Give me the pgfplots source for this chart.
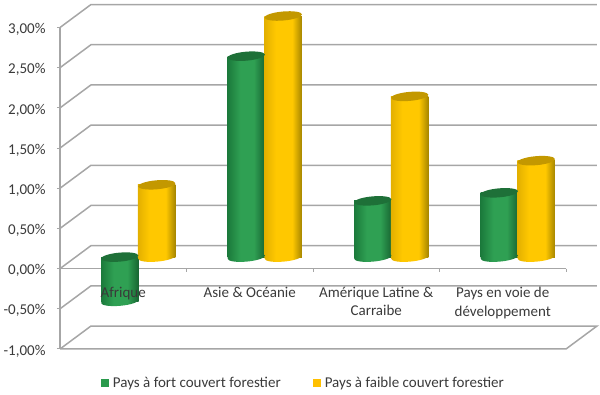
\documentclass[border=0pt]{standalone}
\usepackage{fontspec}
\setmainfont{Carlito}
\usepackage{pgfplots}
\usepackage{pgfplotstable}
\pgfplotsset{compat=1.18}
\usetikzlibrary{shapes.geometric}
\definecolor{gridc}{HTML}{A6A6A6}
\definecolor{txt}{HTML}{3A3A3A}
\definecolor{legG}{HTML}{2A9A4C}
\definecolor{legY}{HTML}{FFC000}
\definecolor{topG}{HTML}{1E7038}
\definecolor{topY}{HTML}{C39800}
\definecolor{gA}{HTML}{1B7A3B}\definecolor{gB}{HTML}{2FA053}\definecolor{gC}{HTML}{186532}
\definecolor{yA}{HTML}{E3B000}\definecolor{yB}{HTML}{FFC800}\definecolor{yC}{HTML}{A58500}
\pgfdeclarehorizontalshading{cylG}{100bp}{color(0bp)=(gA);color(25bp)=(gA);color(42bp)=(gB);color(60bp)=(gB);color(75bp)=(gC);color(100bp)=(gC)}
\pgfdeclarehorizontalshading{cylY}{100bp}{color(0bp)=(yA);color(25bp)=(yA);color(40bp)=(yB);color(62bp)=(yB);color(75bp)=(yC);color(100bp)=(yC)}
\pgfplotstableread{
x v base top
0.354 -0.55 -0.55 0
1.354 2.5 0 2.5
2.354 0.7 0 0.7
3.354 0.8 0 0.8
}\green
\pgfplotstableread{
x v base top
0.646 0.9 0 0.9
1.646 3.0 0 3.0
2.646 2.0 0 2.0
3.646 1.2 0 1.2
}\yellow
\pgfplotsset{
  common/.style={scale only axis,width=506pt,height=321.5pt,xmin=0,xmax=4,ymin=-1,ymax=3,clip=false,anchor=south west},
  ell/.style={only marks,mark=none,forget plot,nodes near coords={},nodes near coords align=center,
    every node near coord/.style={ellipse,inner sep=0pt,minimum width=37.5pt,minimum height=9pt,rotate=5,draw=none,#1,anchor=center}},
  cyl/.style={ybar,bar width=37.5pt,bar shift=0pt,draw=none,shade,shading=#1,forget plot},
  grid3d/.style={draw=gridc,line width=1.5pt,no marks,forget plot},
}
\begin{document}
\begin{tikzpicture}
\useasboundingbox (0pt,0pt) rectangle (600pt,394pt);
% walls, gridlines and value axis
\begin{axis}[common,at={(60pt,45pt)},
  axis x line=none,
  axis y line*=left,
  axis line style={draw=gridc,line width=1.5pt,-},
  ytick={-1,-0.5,0,0.5,1,1.5,2,2.5,3},
  yticklabel={\pgfmathprintnumber[fixed,fixed zerofill,precision=2,use comma,assume math mode=true]{\tick}\%},
  yticklabel style={font=\fontsize{15}{15}\selectfont,text=txt,xshift=-8pt,yshift=-2pt},
  ytick style={draw=gridc,line width=1pt},
  tick align=outside,
  major tick length=3pt,
]
\addplot[grid3d] coordinates {(0,-1)(0.245,-0.714)(4.245,-0.714)(4,-1)(0,-1)};
\addplot[grid3d] coordinates {(0,-0.5)(0.245,-0.214)(4.245,-0.214)};
\addplot[grid3d] coordinates {(0,0)(0.245,0.286)(4.245,0.286)};
\addplot[grid3d] coordinates {(0,0.5)(0.245,0.786)(4.245,0.786)};
\addplot[grid3d] coordinates {(0,1)(0.245,1.286)(4.245,1.286)};
\addplot[grid3d] coordinates {(0,1.5)(0.245,1.786)(4.245,1.786)};
\addplot[grid3d] coordinates {(0,2)(0.245,2.286)(4.245,2.286)};
\addplot[grid3d] coordinates {(0,2.5)(0.245,2.786)(4.245,2.786)};
\addplot[grid3d] coordinates {(0,3)(0.245,3.286)(4.245,3.286)};
\addplot[grid3d] coordinates {(0,0)(4,0)};
\addplot[grid3d,line width=1pt] coordinates {(0,0)(0,-0.04)};
\addplot[grid3d,line width=1pt] coordinates {(1,0)(1,-0.04)};
\addplot[grid3d,line width=1pt] coordinates {(2,0)(2,-0.04)};
\addplot[grid3d,line width=1pt] coordinates {(3,0)(3,-0.04)};
\addplot[grid3d,line width=1pt] coordinates {(4,0)(4,-0.04)};
\end{axis}
% cylinders, half a depth behind the front plane
\begin{axis}[common,at={(75pt,56.5pt)},hide axis]
\addplot[ell={shade,shading=cylG}] table[x=x,y=base] {\green};
\addplot[cyl=cylG] coordinates {(0.354,-0.55)};
\addplot[cyl=cylG] coordinates {(1.354,2.5)};
\addplot[cyl=cylG] coordinates {(2.354,0.7)};
\addplot[cyl=cylG] coordinates {(3.354,0.8)};
\addplot[ell={fill=topG}] table[x=x,y=top] {\green};
\addplot[ell={shade,shading=cylY}] table[x=x,y=base] {\yellow};
\addplot[cyl=cylY] coordinates {(0.646,0.9)};
\addplot[cyl=cylY] coordinates {(1.646,3.0)};
\addplot[cyl=cylY] coordinates {(2.646,2.0)};
\addplot[cyl=cylY] coordinates {(3.646,1.2)};
\addplot[ell={fill=topY}] table[x=x,y=top] {\yellow};
\end{axis}
% category labels and legend, on top of the cylinders
\begin{axis}[common,at={(60pt,45pt)},
  axis x line=middle,axis y line=none,
  axis line style={draw=none,-},
  xtick={0.5,1.5,2.5,3.5},
  xticklabels={Afrique,Asie \& Océanie,Amérique Latine \&\\Carraibe,Pays en voie de\\développement},
  xticklabel style={font=\fontsize{15}{18.3}\selectfont,text=txt,align=center,anchor=north,yshift=-13pt},
  xtick style={draw=none},
  legend columns=2,
  legend style={at={(0.481,-0.106)},anchor=center,draw=none,fill=none,font=\fontsize{15}{15}\selectfont,text=txt,
    /tikz/every even column/.style={column sep=30pt}, cells={anchor=west}},
  legend image code/.code={\fill[#1] (0pt,-4pt) rectangle (8pt,4pt);\path (10pt,0pt);},
]
\addlegendimage{fill=legG,draw=none}
\addlegendentry{Pays à fort couvert forestier}
\addlegendimage{fill=legY,draw=none}
\addlegendentry{Pays à faible couvert forestier}
\end{axis}
\end{tikzpicture}
\end{document}
